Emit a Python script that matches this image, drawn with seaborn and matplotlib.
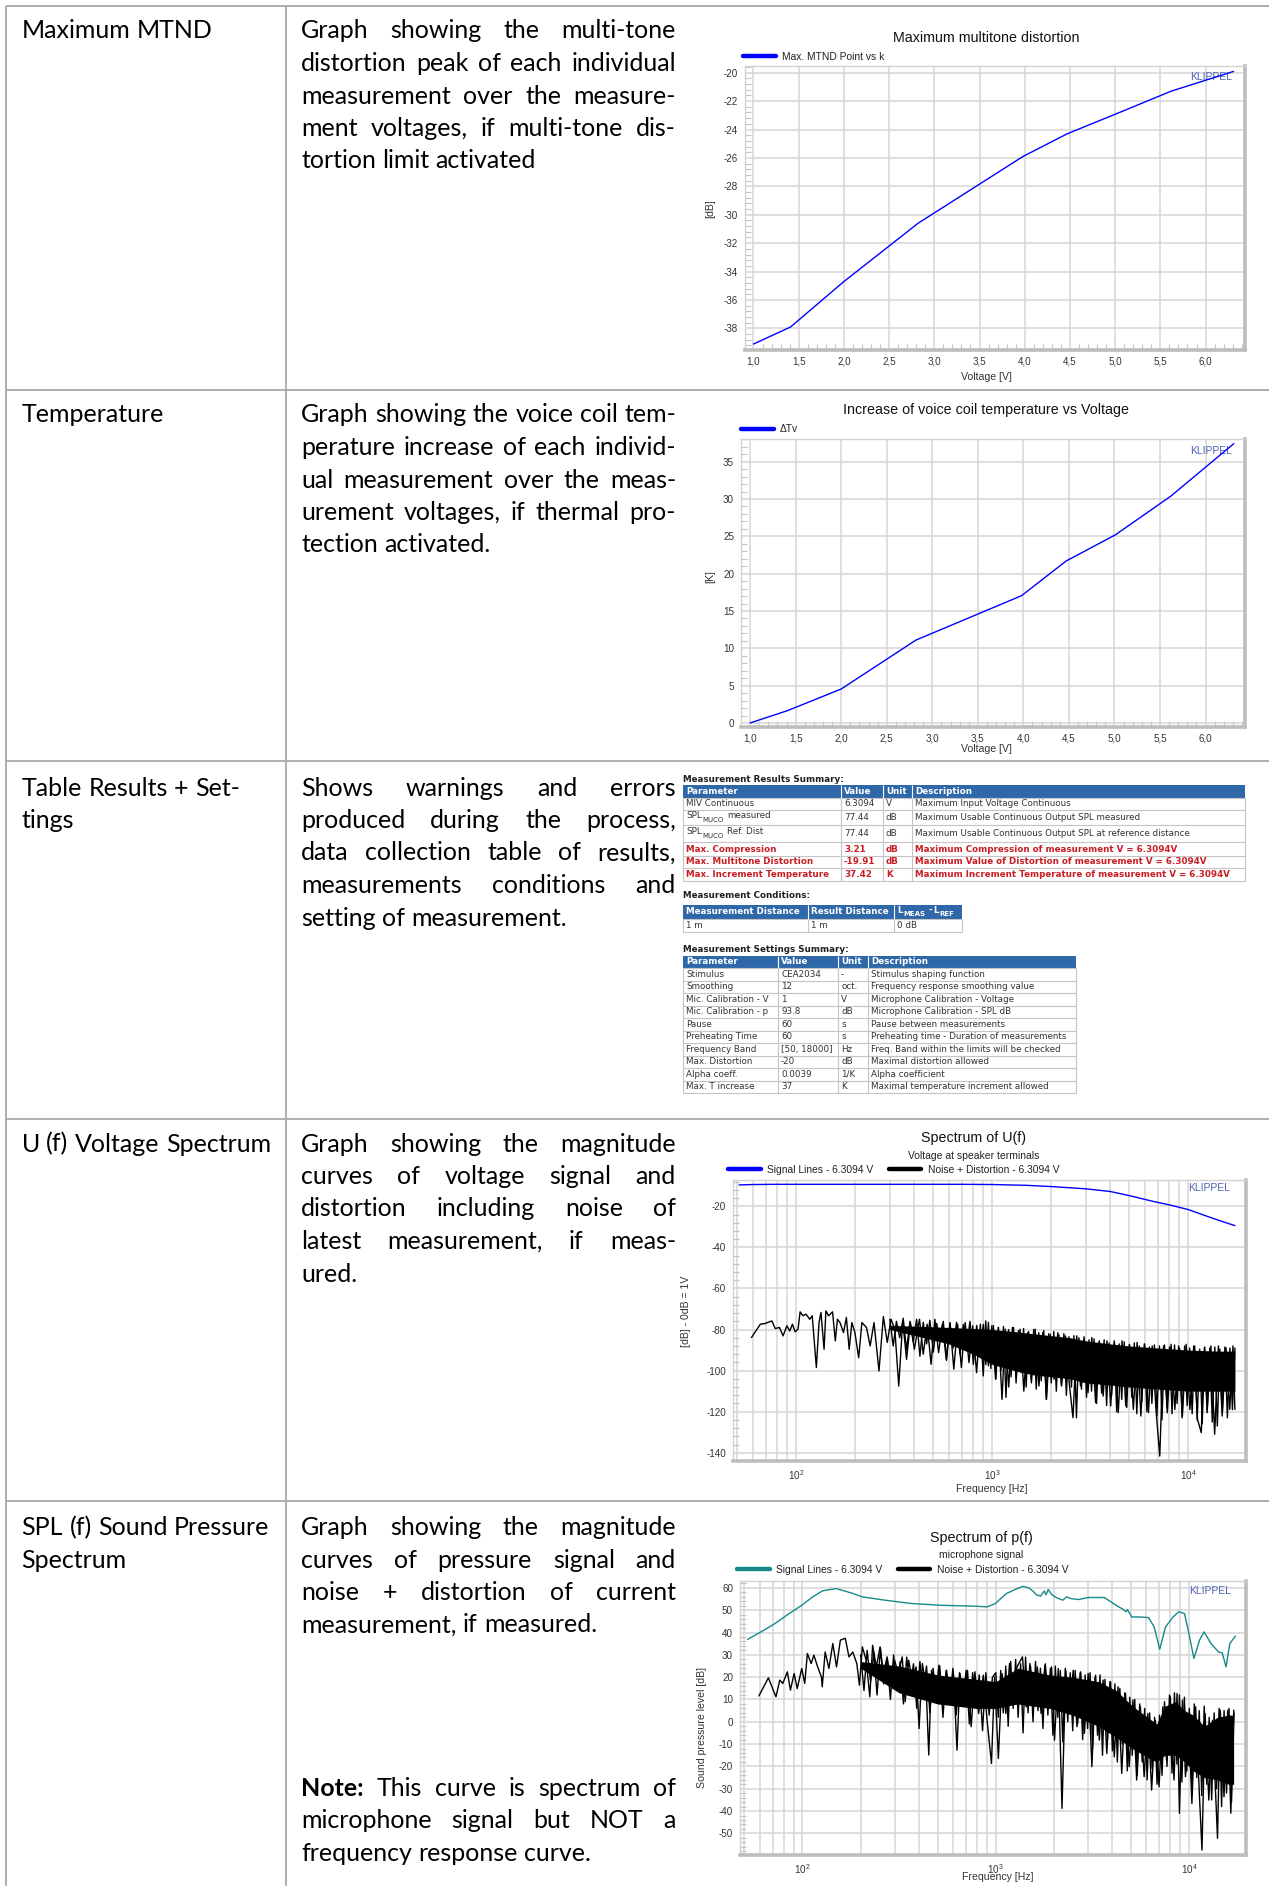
import numpy as np
import pandas as pd
import matplotlib
matplotlib.use("Agg")
import matplotlib.pyplot as plt
import seaborn as sns
from matplotlib.lines import Line2D
from matplotlib.patches import Rectangle
from matplotlib.ticker import (MultipleLocator, AutoMinorLocator, FuncFormatter,
                               FixedLocator, LogLocator, NullFormatter)

# ============================ DATA ============================
# --- left / middle column texts
row_titles = [["Maximum MTND"], ["Temperature"], ["Table Results + Set-", "tings"],
              ["U (f) Voltage Spectrum"], ["SPL (f) Sound Pressure", "Spectrum"]]
row_desc = [
    ["Graph showing the multi-tone", "distortion peak of each individual",
     "measurement over the measure-", "ment voltages, if multi-tone dis-",
     "tortion limit activated"],
    ["Graph showing the voice coil tem-", "perature increase of each individ-",
     "ual measurement over the meas-", "urement voltages, if thermal pro-",
     "tection activated."],
    ["Shows warnings and errors", "produced during the process,",
     "data collection table of results,", "measurements conditions and",
     "setting of measurement."],
    ["Graph showing the magnitude", "curves of voltage signal and",
     "distortion including noise of", "latest measurement, if meas-", "ured."],
    ["Graph showing the magnitude", "curves of pressure signal and",
     "noise + distortion of current", "measurement, if measured."],
]
note_lines = ["Note:  This curve is spectrum of", "microphone signal but NOT a",
              "frequency response curve."]

# --- chart 1 / 2 : values vs voltage
volt = [1.0, 1.41, 2.0, 2.82, 3.98, 4.47, 5.01, 5.62, 6.31]
mtnd_db = [-39.1, -37.9, -34.7, -30.6, -25.9, -24.3, -22.9, -21.3, -19.91]
delta_t = [0.0, 1.65, 4.55, 11.1, 17.05, 21.7, 25.2, 30.4, 37.42]

# --- chart 4 : spectrum of U(f)
u_signal = [(51, -9.6), (60, -9.4), (80, -9.3), (100, -9.3), (200, -9.3), (400, -9.3),
            (700, -9.3), (1000, -9.4), (1500, -9.8), (2000, -10.4), (3000, -11.5),
            (4000, -12.8), (5100, -15.0), (6600, -17.6), (8000, -19.3), (10000, -21.6),
            (12500, -24.9), (15000, -27.5), (17300, -29.4)]
u_noise = [(59, -83.9), (65.5, -77.4), (69, -77.1), (75, -75.8), (78, -79.5), (82, -79.0),
           (85.5, -83.1), (89.5, -78.2), (92.5, -80.7), (95.5, -77.4), (98.5, -81.1),
           (102, -79.8), (104.5, -71.4), (108, -73.3), (112, -72.5), (117, -75.0),
           (120.5, -73.3), (126.5, -98.5), (130.5, -76.6), (133.5, -71.7), (138.5, -89.6),
           (141.5, -70.9), (146, -73.3), (153, -71.4), (158, -85.5), (162, -75.0),
           (167, -76.6), (174, -81.5), (180, -74.1), (186, -89.6), (192, -76.6),
           (199, -81.5), (208, -93.7), (216, -76.6), (228, -79.0), (238, -88.0),
           (249, -76.6), (264, -100.2), (278, -73.7), (291, -86.3), (304, -75.0),
           (318, -79.8), (333, -107.5), (349, -75.8), (365, -94.5), (382, -76.6),
           (400, -89.6), (425, -75.0), (444, -92.0), (465, -77.4), (487, -96.9),
           (509, -75.0), (532, -91.2), (556, -77.4), (582, -94.5), (608, -76.6),
           (636, -99.3), (665, -77.4), (695, -98.5), (727, -76.6), (760, -96.1),
           (794, -78.2), (831, -101.0), (869, -77.4), (899, -102.6), (925, -75.8),
           (955, -97.7), (994, -78.2), (1039, -104.2), (1072, -79.0), (1121, -114.0),
           (1163, -79.8), (1212, -108.0), (1267, -79.0), (1325, -103.5), (1385, -79.8),
           (1448, -110.0), (1514, -81.5), (1583, -106.0), (1654, -79.8), (1729, -107.5),
           (1808, -81.5), (1890, -114.0), (1976, -82.3), (2066, -104.2), (2159, -81.5),
           (2257, -107.5), (2360, -83.1), (2467, -105.9), (2579, -122.9), (2696, -83.1),
           (2818, -107.5), (2946, -84.7), (3079, -110.7), (3219, -83.9), (3365, -115.6),
           (3518, -85.5), (3677, -112.4), (3844, -85.5), (4018, -117.2), (4200, -86.3),
           (4391, -120.5), (4590, -85.5), (4798, -117.2), (5016, -87.2), (5243, -118.9),
           (5481, -86.3), (5729, -122.1), (5989, -87.2), (6261, -120.5), (6544, -88.0),
           (6841, -118.9), (7151, -141.6), (7476, -88.0), (7814, -120.5), (8169, -87.2),
           (8539, -118.9), (8926, -88.0), (9331, -122.1), (9754, -87.2), (10196, -118.9),
           (10658, -88.0), (11141, -123.7), (11646, -130.2), (12084, -88.8),
           (12474, -120.5), (13040, -88.0), (13631, -131.0), (14249, -88.0),
           (14895, -122.1), (15570, -88.8), (16276, -118.9), (16900, -88.0), (17290, -118.9)]
u_noise_dense = [(300, -75.0), (312, -88.0), (324, -76.0), (337, -84.0), (351, -74.5),
                 (365, -90.0), (380, -76.0), (395, -86.0), (411, -75.0), (427, -93.0),
                 (444, -76.5), (462, -87.0), (480, -75.5), (500, -91.0), (520, -77.0),
                 (540, -86.0), (562, -76.0), (584, -95.0), (608, -77.0), (632, -89.0),
                 (657, -76.5), (684, -92.0), (711, -77.5), (740, -88.0), (769, -76.0),
                 (800, -97.0), (832, -78.0), (865, -90.0),
                 (900, -77.5), (927, -97.0), (955, -76.5), (983, -99.0), (1013, -78.0),
                 (1043, -104.0), (1075, -79.0), (1107, -100.0), (1140, -78.5), (1174, -113.0),
                 (1210, -80.0), (1246, -103.0), (1283, -79.0), (1322, -106.0), (1361, -80.5),
                 (1402, -101.0), (1444, -79.5), (1488, -108.0), (1532, -81.0), (1578, -104.0),
                 (1626, -80.0), (1675, -109.0), (1725, -81.5), (1776, -105.0), (1830, -80.5),
                 (1885, -114.0), (1941, -82.0), (1999, -106.0), (2059, -81.0), (2121, -110.0),
                 (2185, -82.5), (2250, -107.0), (2318, -82.0), (2387, -112.0), (2459, -83.5),
                 (2533, -108.0), (2609, -83.0), (2687, -123.0), (2767, -84.0), (2850, -109.0),
                 (2936, -83.5), (3024, -113.0), (3115, -85.0), (3208, -110.0), (3304, -84.5),
                 (3403, -116.0), (3505, -86.0), (3611, -111.0), (3719, -85.0), (3830, -117.0),
                 (3945, -86.5), (4064, -112.0), (4186, -85.5), (4311, -120.0), (4440, -87.0),
                 (4574, -114.0), (4711, -86.0), (4852, -118.0), (4998, -87.5), (5148, -113.0),
                 (5302, -86.5), (5461, -121.0), (5625, -88.0), (5794, -115.0), (5968, -87.0),
                 (6147, -120.0), (6331, -88.5), (6521, -116.0), (6717, -87.5), (6918, -122.0),
                 (7126, -88.0), (7340, -124.0), (7560, -87.5), (7787, -118.0), (8020, -88.5),
                 (8261, -121.0), (8509, -87.5), (8764, -116.0), (9027, -89.0), (9298, -123.0),
                 (9577, -88.0), (9864, -117.0), (10160, -89.0), (10465, -121.0), (10779, -88.0),
                 (11102, -124.0), (11435, -89.5), (11778, -126.0), (12132, -88.5),
                 (12496, -119.0), (12871, -89.0), (13257, -125.0), (13654, -88.5),
                 (14064, -127.0), (14486, -89.5), (14921, -120.0), (15368, -88.5),
                 (15829, -123.0), (16304, -89.0), (16793, -119.0), (17297, -89.0)]
u_core_f = [300, 450, 600, 800, 1000, 1300, 1600, 2000, 2500, 3000, 4000, 5000, 7000,
            10000, 14000, 17300]
u_core_hi = [-78, -78.5, -79, -79.5, -80, -81, -82, -83, -84, -85.5, -87, -88, -89, -90,
             -90.5, -90.5]
u_core_lo = [-80, -84, -87, -92, -97, -100, -102, -103, -104, -106, -107, -108, -109, -110,
             -110, -110]

# --- chart 5 : spectrum of p(f)
p_signal = [(52, 36.9), (59, 39.6), (63, 41.0), (72, 44.0), (83, 47.8), (99, 52.2),
            (113, 56.0), (127, 58.7), (149, 59.7), (178, 57.8), (204, 56.0), (267, 54.5),
            (367, 53.0), (527, 52.2), (791, 51.8), (901, 51.5), (995, 53.0), (1135, 57.5),
            (1290, 59.7), (1380, 60.7), (1480, 60.1), (1560, 58.5), (1620, 57.0),
            (1705, 56.3), (1780, 58.6), (1820, 56.9), (1867, 59.3), (1950, 57.0),
            (2025, 56.0), (2120, 55.2), (2220, 54.5), (2330, 56.0), (2450, 55.2),
            (2680, 54.8), (3000, 55.7), (3645, 55.7), (4195, 52.2), (4600, 50.2),
            (4716, 49.3), (4800, 50.3), (5044, 47.0), (5515, 47.0), (6174, 46.7),
            (6595, 42.5), (7050, 32.5), (7550, 42.5), (8265, 47.0), (8850, 49.3),
            (9470, 48.5), (9900, 41.0), (10590, 28.4), (11330, 36.6), (11960, 40.3),
            (12970, 35.1), (14200, 31.3), (14850, 30.8), (15530, 24.6), (16250, 35.1),
            (17380, 38.4)]
p_noise = [(59.5, 11.6), (66.6, 19.7), (72.9, 11.2), (76.3, 18.7), (79.1, 17.2), (83.5, 22.4),
           (86.6, 14.2), (90.5, 21.6), (93.9, 14.9), (99.1, 23.9), (102.7, 17.2), (106, 30.6),
           (110.9, 26.1), (114.5, 29.9), (119.8, 24.6), (125.3, 20.1), (126.5, 15.7),
           (131, 31.3), (137, 23.9), (143.5, 35.1), (150, 24.6), (157, 36.6), (166.5, 37.4),
           (174, 29.1), (182, 31.3), (191, 26.1), (197, 16.4), (204, 33.6), (213.5, 27.6),
           (223, 11.2), (230.5, 34.3), (241, 24.6), (252, 33.6), (262, 21.6), (274, 29.1),
           (286.5, 18.7), (299.5, 27.6), (313, 21.6), (328, 29.1), (340, 9.0), (354, 27.6),
           (370, 18.7), (387, 24.6), (401, -3.0), (417, 26.1), (436, 15.7), (450, -14.9),
           (465, 23.1), (486, 9.7), (508, 25.4), (531, 11.2), (556, 23.1), (581, 8.2),
           (603, 22.4), (630, -12.7), (653, 21.6), (683, 6.7), (714, 23.1), (746, -2.2),
           (780, 22.4), (815, 3.7), (862, 20.9), (901, 0.7), (950, -18.7), (986, 20.1),
           (1031, -16.4), (1078, 21.6), (1127, 3.7), (1178, 26.1), (1232, 9.7),
           (1288, 24.6), (1374, 29.1), (1437, 6.7), (1502, 26.1), (1570, 9.7), (1641, 24.6),
           (1716, 3.7), (1794, 25.4), (1876, 11.2), (1943, 24.6), (2013, -8.2), (2105, 23.9),
           (2201, -38.8), (2301, 23.1), (2406, 3.7), (2515, 23.1), (2630, -2.2), (2749, 22.4),
           (2874, -5.2), (3005, 21.6), (3141, -20.1), (3284, 20.9), (3434, -8.2),
           (3590, 18.7), (3753, -14.2), (3924, 17.9), (4102, -15.7), (4289, 15.7),
           (4484, -23.1), (4688, 12.7), (4901, -20.1), (5124, 9.7), (5357, -26.1),
           (5600, 6.7), (5855, -24.6), (6122, 3.7), (6400, -30.6), (6691, 0.7),
           (6995, -29.1), (7313, 6.7), (7646, -17.2), (7993, 11.2), (8357, -26.1),
           (8666, 12.7), (8913, -41.0), (9240, 9.7), (9580, -24.6), (10016, -5.2),
           (10340, -36.6), (10810, 6.7), (11300, -32.1), (11660, -57.5), (12100, 3.7),
           (12650, -35.1), (13220, 0.7), (14030, -52.2), (14500, 5.2), (15160, -33.6),
           (15850, 5.2), (16440, -41.0), (17030, 5.2)]
p_noise_dense = [(200, 30), (208, 14), (216, 32), (225, 18), (234, 31), (243, 12), (253, 33),
                 (263, 17), (274, 28), (285, 10), (296, 30), (308, 15), (320, 27), (333, 8),
                 (346, 29), (360, 14), (375, 26), (390, 6), (405, 27), (421, 12), (438, 25),
                 (456, 4), (474, 24), (493, 10), (513, 25), (533, 2), (554, 23), (577, 9),
                 (600, 24), (624, 3), (649, 22), (675, 8), (702, 23), (730, -1), (759, 22),
                 (790, 6), (821, 21), (854, -4), (888, 22), (924, 3), (961, 20),
                 (1000, 22), (1030, 2), (1061, 23), (1093, 4), (1126, 25), (1159, -2),
                 (1194, 27), (1230, 6), (1267, 28), (1305, 2), (1344, 26), (1384, -5),
                 (1426, 29), (1469, 4), (1513, 25), (1558, 0), (1605, 27), (1653, 5),
                 (1702, 24), (1754, -3), (1806, 26), (1860, 3), (1916, 24), (1974, -6),
                 (2033, 25), (2094, 2), (2157, 23), (2221, -9), (2288, 24), (2357, 0),
                 (2427, 22), (2500, -4), (2575, 23), (2652, -1), (2732, 22), (2814, -8),
                 (2898, 21), (2985, -3), (3075, 22), (3167, -12), (3262, 20), (3360, -6),
                 (3461, 21), (3565, -15), (3671, 19), (3782, -8), (3895, 18), (4012, -13),
                 (4132, 17), (4256, -18), (4384, 15), (4515, -10), (4651, 13), (4790, -22),
                 (4934, 11), (5082, -15), (5235, 10), (5392, -24), (5553, 8), (5720, -18),
                 (5891, 6), (6068, -26), (6250, 4), (6437, -21), (6631, 2), (6829, -28),
                 (7034, 3), (7245, -24), (7463, 9), (7687, -20), (7917, 12), (8155, -23),
                 (8400, 13), (8652, -19), (8911, 12), (9179, -27), (9454, 11), (9738, -22),
                 (10030, 6), (10331, -30), (10641, 8), (10960, -25), (11289, 5), (11627, -33),
                 (11976, 7), (12336, -28), (12706, 2), (13087, -35), (13480, 4), (13884, -30),
                 (14300, 6), (14729, -38), (15171, 5), (15627, -32), (16095, 6), (16578, -36),
                 (17076, 4)]
p_core_f = [200, 316, 500, 800, 1000, 1300, 1900, 2500, 3400, 4200, 5100, 6100, 6800, 7500,
            8500, 9500, 10500, 12000, 14000, 16000, 17000]
p_core_hi = [27, 25, 21, 19, 18, 24, 21, 20, 18, 14, 7, 2, -1, 7, 9, 5, 3, -2, 2, 3, 3]
p_core_lo = [24, 13, 8, 6, 6, 8, 6, 3, -2, -7, -12, -16, -18, -15, -15, -18, -22, -25, -26,
             -28, -28]

legend_u = ["Signal Lines - 6.3094 V", "Noise + Distortion - 6.3094 V"]

# --- tables
res_header = ["Parameter", "Value", "Unit", "Description"]
res_param = ["MIV Continuous",
             [("SPL", "n"), ("MUCO", "s"), ("measured", "n")],
             [("SPL", "n"), ("MUCO", "s"), ("Ref. Dist", "n")],
             "Max. Compression", "Max. Multitone Distortion", "Max. Increment Temperature"]
res_value = ["6.3094", "77.44", "77.44", "3.21", "-19.91", "37.42"]
res_unit = ["V", "dB", "dB", "dB", "dB", "K"]
res_desc = ["Maximum Input Voltage Continuous",
            "Maximum Usable Continuous Output SPL measured",
            "Maximum Usable Continuous Output SPL at reference distance",
            "Maximum Compression of measurement V = 6.3094V",
            "Maximum Value of Distortion of measurement V = 6.3094V",
            "Maximum Increment Temperature of measurement V = 6.3094V"]
res_alert = [False, False, False, True, True, True]

cond_header = ["Measurement Distance", "Result Distance",
               [("L", "n"), ("MEAS", "s"), ("-", "n"), ("L", "n"), ("REF", "s")]]
cond_values = ["1 m", "1 m", "0 dB"]

set_header = ["Parameter", "Value", "Unit", "Description"]
set_param = ["Stimulus", "Smoothing", "Mic. Calibration - V", "Mic. Calibration - p", "Pause",
             "Preheating Time", "Frequency Band", "Max. Distortion", "Alpha coeff.",
             "Max. T increase"]
set_value = ["CEA2034", "12", "1", "93.8", "60", "60", "[50, 18000]", "-20", "0.0039", "37"]
set_unit = ["-", "oct.", "V", "dB", "s", "s", "Hz", "dB", "1/K", "K"]
set_desc = ["Stimulus shaping function", "Frequency response smoothing value",
            "Microphone Calibration - Voltage", "Microphone Calibration - SPL dB",
            "Pause between measurements", "Preheating time - Duration of measurements",
            "Freq. Band within the limits will be checked", "Maximal distortion allowed",
            "Alpha coefficient", "Maximal temperature increment allowed"]

# ============================ SETUP ============================
W, H = 1269, 1886
sns.set_theme(style="white")
plt.rcParams["font.family"] = ["Liberation Sans", "DejaVu Sans"]
plt.rcParams["axes.unicode_minus"] = False
plt.rcParams["mathtext.fontset"] = "custom"
plt.rcParams["mathtext.rm"] = "Liberation Sans"
plt.rcParams["mathtext.it"] = "Liberation Sans:italic"
plt.rcParams["mathtext.bf"] = "Liberation Sans:bold"

fig = plt.figure(figsize=(W / 100, H / 100), dpi=100)
fig.patch.set_facecolor("white")
renderer = fig.canvas.get_renderer()

bg = fig.add_axes([0, 0, 1, 1])
bg.set_xlim(0, W)
bg.set_ylim(H, 0)
bg.axis("off")

CH = ["Liberation Sans", "DejaVu Sans"]
BODY = ["Lato", "DejaVu Sans"]
TBL = ["DejaVu Sans"]


def width_px(s, **kw):
    t = bg.text(0, 0, s, **kw)
    w = t.get_window_extent(renderer=renderer).width
    t.remove()
    return w


def fit_size(s, target, **kw):
    return 10.0 * target / width_px(s, fontsize=10, **kw)


BODY_SIZE = fit_size("measurement, if measured.", 297, family=BODY)
TITLE_SIZE = fit_size("Maximum multitone distortion", 186, family=CH)
LEG_SIZE = fit_size("Max. MTND Point vs k", 102, family=CH)
SUB_SIZE = fit_size("Voltage at speaker terminals", 132, family=CH)
LAB_SIZE = fit_size("Voltage [V]", 51, family=CH)
KL_SIZE = fit_size("KLIPPEL", 42, family=CH)
TICK_SIZE = 7.1
TBL_SIZE = fit_size("Maximum Increment Temperature of measurement V = 6.3094V", 318,
                    family=TBL, fontweight="bold")

# ============================ TABLE GRID ============================
LINE_C = "#a8a8a8"
bg.hlines([6, 390, 761, 1119, 1501], 6, W, colors=LINE_C, lw=1.3)
bg.vlines([6, 286], 6, H, colors=LINE_C, lw=1.3)

# ============================ TEXT COLUMNS ============================
TXT_C = "#000000"
LINE_H = 32.5
row_y0 = [31, 415, 788, 1144, 1527.5]
space_w = width_px("a a", fontsize=BODY_SIZE, family=BODY) - width_px("aa", fontsize=BODY_SIZE, family=BODY)


def put_line(line, x0, x1, y, justify):
    words = line.split()
    bolds = [w == "Note:" for w in words]
    widths = [width_px(w, fontsize=BODY_SIZE, family=BODY,
                       fontweight="bold" if b else "normal") for w, b in zip(words, bolds)]
    if justify and len(words) > 1:
        gap = (x1 - x0 - sum(widths)) / (len(words) - 1)
    else:
        gap = space_w
    x = x0
    for w, b, wd in zip(words, bolds, widths):
        bg.text(x, y, w, fontsize=BODY_SIZE, family=BODY, color=TXT_C,
                fontweight="bold" if b else "normal", ha="left", va="center")
        x += wd + gap


for r in range(5):
    for i, t in enumerate(row_titles[r]):
        put_line(t, 21.6, 280, row_y0[r] + i * LINE_H, False)
    lines = row_desc[r]
    for i, t in enumerate(lines):
        put_line(t, 301, 676, row_y0[r] + i * LINE_H, i < len(lines) - 1)
for i, t in enumerate(note_lines):
    put_line(t, 301, 676, 1788.5 + i * LINE_H, i < len(note_lines) - 1)


# ============================ CHART HELPERS ============================
def chart_axes(l, t, r, b):
    ax = fig.add_axes([l / W, 1 - b / H, (r - l) / W, (b - t) / H])
    ax.set_facecolor("white")
    ax.set_axisbelow(True)
    return ax


def style_axes(ax):
    for side in ("top", "left"):
        ax.spines[side].set_visible(True)
        ax.spines[side].set_color("#d2d2d2")
        ax.spines[side].set_linewidth(1.0)
    for side in ("right", "bottom"):
        ax.spines[side].set_visible(True)
        ax.spines[side].set_color("#bdbdbd")
        ax.spines[side].set_linewidth(2.6)
    ax.grid(True, which="major", color="#d6d6d6", linewidth=1.1)
    ax.tick_params(which="major", length=0, labelsize=TICK_SIZE, labelcolor="#333333",
                   pad=5, bottom=True, left=True)
    ax.tick_params(which="minor", direction="in", length=4, width=0.8, color="#c4c4c4",
                   bottom=True, left=True)
    for lab in ax.get_xticklabels() + ax.get_yticklabels():
        lab.set_family(CH)
    ax.set_xlabel("")
    ax.set_ylabel("")


def legend_at(ax, items, x_px, y_px):
    handles = [Line2D([], [], color=c, lw=3.2) for c, _ in items]
    leg = ax.legend(handles, [lab for _, lab in items], loc="center left",
                    bbox_to_anchor=(x_px / W, 1 - y_px / H), bbox_transform=fig.transFigure,
                    ncol=len(items), frameon=False, handlelength=3.2,
                    handletextpad=0.6, columnspacing=1.5, borderpad=0, borderaxespad=0,
                    prop={"family": CH, "size": LEG_SIZE})
    for t in leg.get_texts():
        t.set_color("#222222")


def klippel(ax, x_px, y_px):
    ax.text(x_px / W, 1 - y_px / H, "KLIPPEL", transform=fig.transFigure, ha="center",
            va="center", fontsize=KL_SIZE, family=CH, color="#4f63b3", zorder=1.5)


def fig_text(x, y, s, size, rot=0, color="#111111"):
    bg.text(x, y, s, fontsize=size, family=CH, color=color, ha="center", va="center",
            rotation=rot)


comma = FuncFormatter(lambda v, p: f"{v:.1f}".replace(".", ","))
pow10 = FuncFormatter(lambda v, p: f"$10^{{{int(round(np.log10(v)))}}}$")

# ============================ CHART 1 ============================
ax1 = chart_axes(745, 66, 1245, 350)
sns.lineplot(x=volt, y=mtnd_db, ax=ax1, color="#0000ff", linewidth=1.0, zorder=2)
ax1.set_xlim(0.906, 6.436)
ax1.set_ylim(-39.52, -19.53)
ax1.xaxis.set_major_locator(MultipleLocator(0.5))
ax1.xaxis.set_minor_locator(MultipleLocator(0.1))
ax1.yaxis.set_major_locator(MultipleLocator(2))
ax1.yaxis.set_minor_locator(MultipleLocator(0.4))
ax1.xaxis.set_major_formatter(comma)
style_axes(ax1)
legend_at(ax1, [("#0000ff", "Max. MTND Point vs k")], 743, 56.5)
klippel(ax1, 1211, 77)
fig_text(986, 38.5, "Maximum multitone distortion", TITLE_SIZE)
fig_text(986, 376.5, "Voltage [V]", LAB_SIZE, color="#333333")
fig_text(710, 209, "[dB]", LAB_SIZE, rot=90, color="#333333")

# ============================ CHART 2 ============================
ax2 = chart_axes(741, 439, 1245, 727)
sns.lineplot(x=volt, y=delta_t, ax=ax2, color="#0000ff", linewidth=1.0, zorder=2)
ax2.set_xlim(0.9, 6.433)
ax2.set_ylim(-0.54, 38.04)
ax2.xaxis.set_major_locator(MultipleLocator(0.5))
ax2.xaxis.set_minor_locator(MultipleLocator(0.1))
ax2.yaxis.set_major_locator(MultipleLocator(5))
ax2.yaxis.set_minor_locator(MultipleLocator(1))
ax2.xaxis.set_major_formatter(comma)
style_axes(ax2)
legend_at(ax2, [("#0000ff", "\u0394Tv")], 741, 429.5)
klippel(ax2, 1211, 451)
fig_text(986, 410, "Increase of voice coil temperature vs Voltage", TITLE_SIZE)
fig_text(986, 749, "Voltage [V]", LAB_SIZE, color="#333333")
fig_text(710, 577, "[K]", LAB_SIZE, rot=90, color="#333333")


# ============================ SPECTRUM CHARTS ============================
def spectrum(ax, sig, sig_color, noise, noise2, core_f, core_hi, core_lo, ylim, ymaj):
    ax.fill_between(core_f, core_lo, core_hi, color="black", linewidth=0, zorder=2)
    for series in (noise, noise2):
        nf, nd = zip(*series)
        sns.lineplot(x=list(nf), y=list(nd), ax=ax, color="black", linewidth=1.0, zorder=3)
    sf, sd = zip(*sig)
    sns.lineplot(x=list(sf), y=list(sd), ax=ax, color=sig_color, linewidth=1.0, zorder=4)
    ax.set_xscale("log")
    ax.set_xlim(47.5, 19700)
    ax.set_ylim(*ylim)
    ax.xaxis.set_major_locator(FixedLocator([100, 1000, 10000]))
    ax.xaxis.set_major_formatter(pow10)
    ax.xaxis.set_minor_locator(LogLocator(base=10, subs=range(2, 10)))
    ax.xaxis.set_minor_formatter(NullFormatter())
    ax.yaxis.set_major_locator(MultipleLocator(ymaj))
    ax.yaxis.set_minor_locator(AutoMinorLocator(5))
    style_axes(ax)
    ax.grid(True, which="minor", axis="x", color="#d6d6d6", linewidth=1.1)
    ax.tick_params(axis="x", which="minor", length=0)


ax4 = chart_axes(733, 1180, 1246, 1461)
spectrum(ax4, u_signal, "#0000ff", u_noise, u_noise_dense, u_core_f, u_core_hi, u_core_lo,
         (-144, -7.2), 20)
legend_at(ax4, [("#0000ff", legend_u[0]), ("black", legend_u[1])], 728, 1170)
klippel(ax4, 1209, 1188)
fig_text(974, 1138, "Spectrum of U(f)", TITLE_SIZE)
fig_text(974, 1156, "Voltage at speaker terminals", SUB_SIZE, color="#222222")
fig_text(992, 1489, "Frequency [Hz]", LAB_SIZE, color="#333333")
fig_text(686, 1311, "[dB] - 0dB = 1V", LAB_SIZE, rot=90, color="#333333")

ax5 = chart_axes(740, 1581, 1246, 1855)
spectrum(ax5, p_signal, "#168a8a", p_noise, p_noise_dense, p_core_f, p_core_hi, p_core_lo,
         (-59.7, 63.1), 10)
legend_at(ax5, [("#168a8a", legend_u[0]), ("black", legend_u[1])], 737, 1570)
klippel(ax5, 1210, 1591)
fig_text(981.5, 1538, "Spectrum of p(f)", TITLE_SIZE)
fig_text(981.5, 1555, "microphone signal", SUB_SIZE, color="#222222")
fig_text(998, 1877, "Frequency [Hz]", LAB_SIZE, color="#333333")
fig_text(702, 1728, "Sound pressure level [dB]", LAB_SIZE, rot=90, color="#333333")

# ============================ HTML-LIKE TABLES ============================
HDR_BLUE = "#2f68a9"
BORDER = "#c4c4c4"
T_TXT = "#333333"
T_RED = "#c81e24"


def cell_text(x, y, content, color, weight):
    if isinstance(content, str):
        bg.text(x, y, content, fontsize=TBL_SIZE, family=TBL, color=color,
                fontweight=weight, ha="left", va="center")
        return
    for txt, kind in content:
        if kind == "s":
            sz = TBL_SIZE * 0.8
            bg.text(x, y + 2.5, txt, fontsize=sz, family=TBL, color=color,
                    fontweight=weight, ha="left", va="center")
            x += width_px(txt, fontsize=sz, family=TBL, fontweight=weight) + 3
        else:
            bg.text(x, y - 1.8, txt, fontsize=TBL_SIZE, family=TBL, color=color,
                    fontweight=weight, ha="left", va="center")
            x += width_px(txt, fontsize=TBL_SIZE, family=TBL, fontweight=weight) + 1


def draw_table(title, title_y, cols, rows, header, body, alert=None):
    x0, x1 = cols[0], cols[-1]
    bg.text(x0, title_y, title, fontsize=TBL_SIZE, family=TBL, color="#202020",
            fontweight="bold", ha="left", va="center")
    bg.add_patch(Rectangle((x0, rows[0]), x1 - x0, rows[1] - rows[0],
                           facecolor=HDR_BLUE, edgecolor="none"))
    bg.hlines(rows[1:], x0, x1, colors=BORDER, lw=0.8)
    bg.vlines([x0, x1], rows[1], rows[-1], colors=BORDER, lw=0.8)
    bg.vlines(cols[1:-1], rows[1], rows[-1], colors=BORDER, lw=0.8)
    bg.vlines(cols[1:-1], rows[0], rows[1], colors="white", lw=0.8)
    hy = (rows[0] + rows[1]) / 2
    for j, h in enumerate(header):
        cell_text(cols[j] + 3, hy, h, "white", "bold")
    for i, row in enumerate(body):
        yc = (rows[i + 1] + rows[i + 2]) / 2
        red = alert[i] if alert else False
        for j, cell in enumerate(row):
            cell_text(cols[j] + 3, yc, cell, T_RED if red else T_TXT,
                      "bold" if red else "normal")


draw_table("Measurement Results Summary:", 779,
           [683, 841, 883, 912, 1245], [785, 798, 810, 825, 842, 856, 868, 881],
           res_header, list(zip(res_param, res_value, res_unit, res_desc)), res_alert)
draw_table("Measurement Conditions:", 896,
           [683, 808, 894, 962], [905, 919, 932],
           cond_header, [cond_values])
draw_table("Measurement Settings Summary:", 949,
           [683, 778, 838, 868, 1076], [956] + list(np.linspace(968, 1093, 11)),
           set_header, list(zip(set_param, set_value, set_unit, set_desc)))

fig.savefig("out.png", dpi=100, facecolor="white")
